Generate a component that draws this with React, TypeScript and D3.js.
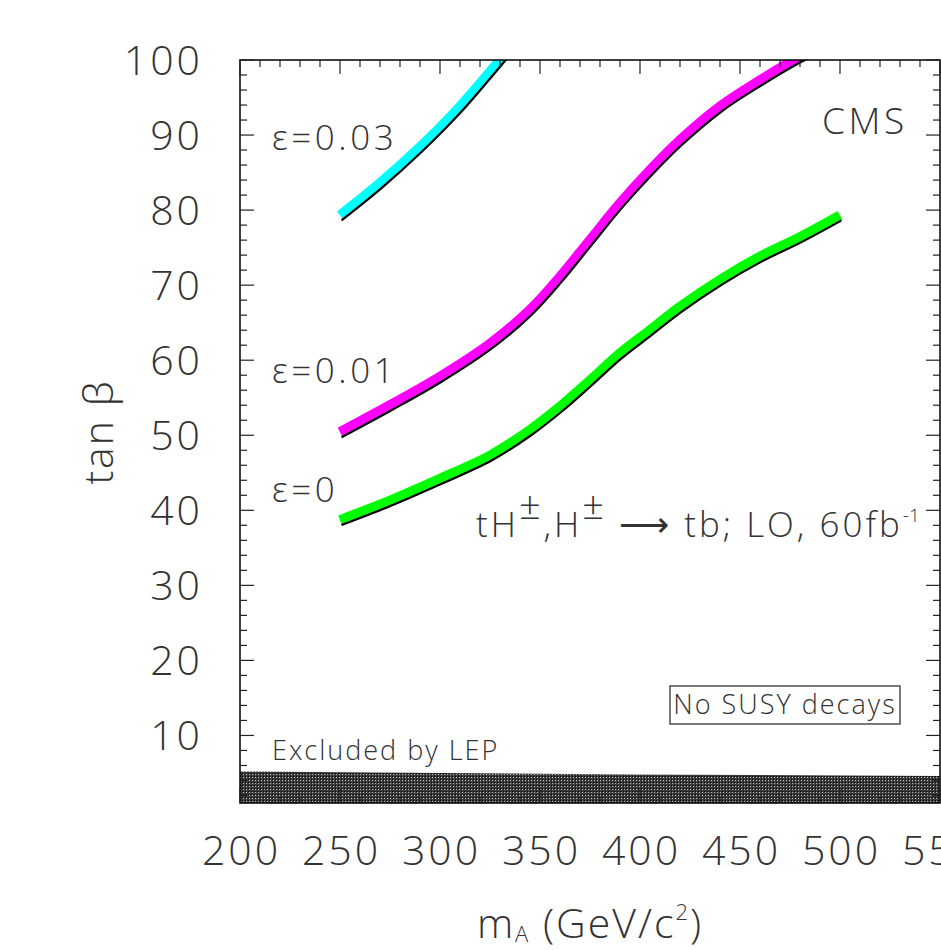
import React from "react";
import * as d3 from "d3";

// tan(beta) discovery contours vs m_A
const massEps0 = [250, 275, 300, 325, 345, 360, 375, 390, 405, 420, 440, 460, 480, 500];
const tanbEps0 = [38.7, 41.3, 44.2, 47.3, 50.7, 53.8, 57.3, 60.9, 64.0, 67.1, 70.7, 73.8, 76.4, 79.3];

const massEps001 = [250, 275, 300, 325, 345, 360, 375, 390, 405, 420, 440, 460, 477, 490];
const tanbEps001 = [50.4, 54.0, 57.8, 62.2, 66.7, 71.1, 76.0, 80.9, 85.3, 89.3, 93.8, 97.3, 100, 101.8];

const massEps003 = [250, 270, 290, 310, 330, 340];
const tanbEps003 = [79.3, 83.6, 88.4, 93.8, 100, 103.2];

const lepMass = [200, 300, 400, 550];
const lepTanb = [5.2, 5.0, 4.8, 4.6];

const xTicks = [200, 250, 300, 350, 400, 450, 500, 550];
const yTicks = [10, 20, 30, 40, 50, 60, 70, 80, 90, 100];

const curves = [
  { name: "eps003", mass: massEps003, tanb: tanbEps003, color: "#00ffff" },
  { name: "eps001", mass: massEps001, tanb: tanbEps001, color: "#ff00ff" },
  { name: "eps0", mass: massEps0, tanb: tanbEps0, color: "#00ff00" },
];

const W = 941;
const H = 950;
const left = 240, right = 940, top = 60, bottom = 803;
const font = "'Open Sans', 'DejaVu Sans', sans-serif";
const txt = "#333";

export default function App() {
  const x = d3.scaleLinear().domain([200, 550]).range([left, right]);
  const y = d3.scaleLinear().domain([1, 100]).range([bottom, top]);

  const line = d3.line<[number, number]>()
    .x(d => x(d[0]))
    .y(d => y(d[1]))
    .curve(d3.curveCatmullRom);

  const band = d3.area<[number, number]>()
    .x(d => x(d[0]))
    .y0(() => y(1))
    .y1(d => y(d[1]));

  const xMinor = d3.range(200, 551, 10);
  const yMinor = d3.range(2, 101, 2);

  return (
    <svg width={W} height={H} style={{ position: "absolute", left: 0, top: 0, background: "#fff" }}>
      <defs>
        <clipPath id="plot">
          <rect x={left} y={top} width={right - left} height={bottom - top} />
        </clipPath>
        <pattern id="hatch" width="3" height="3" patternUnits="userSpaceOnUse">
          <rect width="3" height="3" fill="#3a3a3a" />
          <rect width="1" height="1" fill="#bbb" />
          <rect x="2" y="2" width="1" height="1" fill="#000" />
        </pattern>
      </defs>

      {/* LEP excluded band */}
      <path d={band(lepMass.map((m, i) => [m, lepTanb[i]]) as [number, number][]) || ""}
        fill="url(#hatch)" clipPath="url(#plot)" />

      {/* curves */}
      <g clipPath="url(#plot)" fill="none">
        {curves.map(c => {
          const pts = c.mass.map((m, i) => [m, c.tanb[i]] as [number, number]);
          const d = line(pts) || "";
          return (
            <g key={c.name}>
              <path d={d} stroke={c.color} strokeWidth={10} />
              <path d={d} stroke="#000" strokeWidth={2.2} transform="translate(1.5,5)" />
            </g>
          );
        })}
      </g>

      {/* frame and ticks */}
      <rect x={left} y={top} width={right - left} height={bottom - top} fill="none" stroke="#000" strokeWidth={1.5} />
      <g stroke="#222" strokeWidth={1.2}>
        {xMinor.map(v => {
          const major = v % 50 === 0;
          const len = major ? 14 : 7;
          return (
            <g key={"x" + v}>
              <line x1={x(v)} x2={x(v)} y1={top} y2={top + len} />
              <line x1={x(v)} x2={x(v)} y1={bottom} y2={bottom - len} />
            </g>
          );
        })}
        {yMinor.map(v => {
          const major = v % 10 === 0;
          const len = major ? 14 : 7;
          return (
            <g key={"y" + v}>
              <line x1={left} x2={left + len} y1={y(v)} y2={y(v)} />
              <line x1={right} x2={right - len} y1={y(v)} y2={y(v)} />
            </g>
          );
        })}
      </g>

      {/* tick labels */}
      <g fontFamily={font} fontWeight={300} fill={txt} fontSize={41} letterSpacing={3}>
        {yTicks.map(v => (
          <text key={"yl" + v} x={203} y={y(v) + 14.5} textAnchor="end">{v}</text>
        ))}
        {xTicks.map(v => (
          <text key={"xl" + v} x={x(v) + 1.5} y={865} textAnchor="middle">{v}</text>
        ))}
        <text transform="translate(113,432) rotate(-90)" textAnchor="middle" letterSpacing={2}>tan β</text>
        <text x={590} y={938} textAnchor="middle" letterSpacing={2}>
          m<tspan fontSize={22} dy={4}>A</tspan><tspan dy={-4}> (GeV/c</tspan>
          <tspan fontSize={22} dy={-18}>2</tspan><tspan dy={18}>)</tspan>
        </text>
      </g>

      {/* annotations */}
      <g fontFamily={font} fontWeight={300} fill={txt}>
        <text x={272} y={150} fontSize={35} letterSpacing={3.5}>ε=0.03</text>
        <text x={272} y={383} fontSize={35} letterSpacing={3.5}>ε=0.01</text>
        <text x={272} y={502} fontSize={35} letterSpacing={3.5}>ε=0</text>
        <text x={822} y={134} fontSize={37} letterSpacing={3.5}>CMS</text>
        <text x={476} y={537} fontSize={35} letterSpacing={3}>
          tH<tspan dy={-18} fontSize={38}>±</tspan><tspan dy={18}>,H</tspan><tspan dy={-18} fontSize={38}>±</tspan>
          <tspan dy={18}> ⟶ tb; LO, 60fb</tspan><tspan fontSize={19} dy={-15} letterSpacing={0}>-1</tspan>
        </text>
        <rect x={670} y={686} width={230} height={38} fill="none" stroke="#222" strokeWidth={1.2} />
        <text x={785} y={714} fontSize={27} letterSpacing={2} textAnchor="middle">No SUSY decays</text>
        <text x={272} y={760} fontSize={27} letterSpacing={2}>Excluded by LEP</text>
      </g>
    </svg>
  );
}
